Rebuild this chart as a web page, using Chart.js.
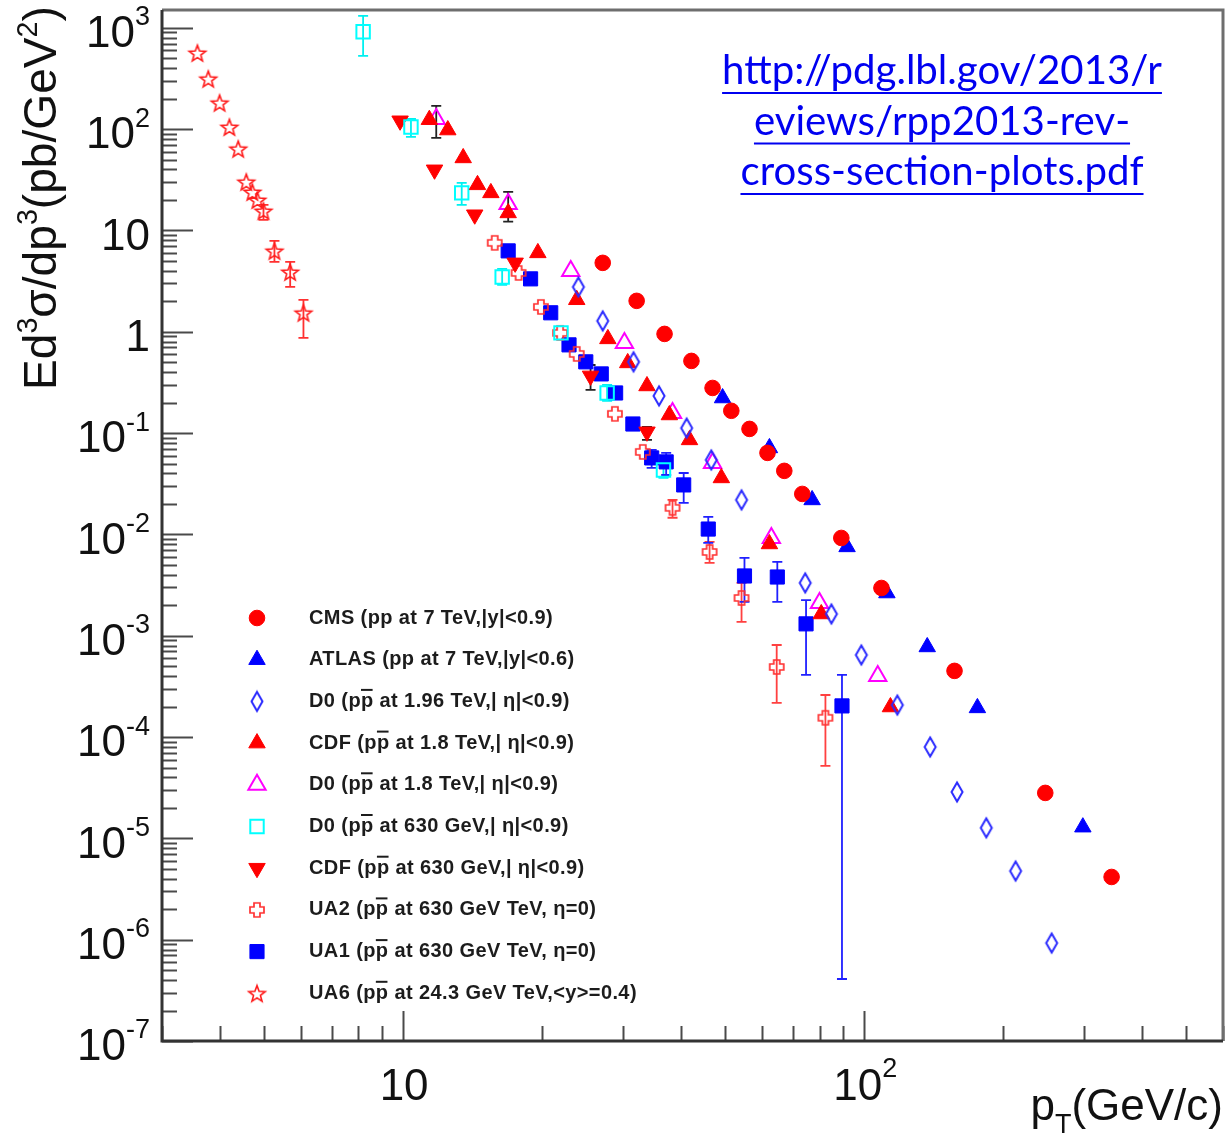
<!DOCTYPE html>
<html>
<head>
<meta charset="utf-8">
<title>Inclusive jet cross sections</title>
<script src="https://cdn.jsdelivr.net/npm/chart.js@4.4.0/dist/chart.umd.min.js"></script>
<style>
  html, body { margin: 0; padding: 0; background: #ffffff; }
  canvas { display: block; }
</style>
</head>
<body>
<canvas id="xsec" width="1229" height="1139"></canvas>
<script>
// ==================================================
// DATA (pT in GeV/c, E d3sigma/dp3 in pb/GeV^2)
// ==================================================
const cmsPt = [27.1, 32.1, 36.9, 42.2, 46.9, 51.5, 56.4, 61.7, 67.1, 73.4, 89.2, 109, 157, 247, 344];
const cmsXs = [4.79, 2.02, 0.953, 0.516, 0.279, 0.166, 0.110, 0.0638, 0.0424, 0.0251, 0.00923, 0.00296, 4.5e-4, 2.81e-5, 4.16e-6];

const atlasPt = [49.3, 62.3, 77.1, 91.8, 112, 137, 176, 298];
const atlasXs = [0.222, 0.0714, 0.0219, 0.00753, 0.00264, 7.75e-4, 1.94e-4, 1.29e-5];

const d0196Pt = [24.0, 27.1, 31.6, 35.9, 41.2, 46.6, 54.2, 74.5, 84.9, 98.6, 118, 139, 159, 184, 213, 255];
const d0196Xs = [2.77, 1.28, 0.505, 0.233, 0.112, 0.0543, 0.0219, 0.00332, 0.00164, 6.46e-4, 2.07e-4, 7.98e-5, 2.87e-5, 1.27e-5, 4.76e-6, 9.27e-7];

const cdf18Pt = [11.4, 12.5, 13.5, 14.5, 15.5, 16.9, 19.6, 23.8, 27.8, 30.7, 33.8, 37.8, 41.8, 49.0, 62.3, 80.7, 114];
const cdf18Xs = [124, 98, 52, 28.2, 23.5, 14.9, 6.01, 2.07, 0.851, 0.493, 0.292, 0.151, 0.0857, 0.0361, 0.00805, 0.00164, 1.98e-4];

const d018Pt = [11.8, 16.9, 23.1, 30.2, 38.4, 46.9, 62.9, 80.0, 107];
const d018Xs = [126, 18.3, 3.99, 0.776, 0.158, 0.0508, 0.00923, 0.00211, 4.01e-4];
const d018Err = [[82, 170], [12.2, 24], null, null, null, null, null, null, null];

const d0630Pt = [8.19, 10.4, 13.4, 16.4, 22.0, 27.7, 36.7];
const d0630Xs = [914, 105, 23.5, 3.48, 0.975, 0.249, 0.0433];
const d0630Err = [[530, 1313], [84, 126], [17.9, 29.5], [2.9, 4.18], null, [0.208, 0.299], [0.0361, 0.052]];

const cdf630Pt = [9.85, 11.7, 14.3, 17.5, 25.5, 33.8];
const cdf630Xs = [121, 39.7, 14.3, 4.79, 0.367, 0.103];
const cdf630Err = [null, null, null, null, [0.267, 0.47], [0.0857, 0.115]];

const ua2Pt = [15.8, 17.8, 19.9, 21.9, 23.8, 28.8, 33.1, 38.4, 46.2, 54.2, 64.6, 82.4];
const ua2Xs = [7.55, 3.81, 1.76, 0.975, 0.605, 0.155, 0.0652, 0.0183, 0.00671, 0.00236, 4.92e-4, 1.55e-4];
const ua2Err = [null, null, null, null, null, null, null, [0.0146, 0.0219], [0.00524, 0.00843],
  [0.00137, 0.00332], [2.17e-4, 8.1e-4], [5.19e-5, 2.6e-4]];

const ua1Pt = [16.9, 18.9, 20.9, 22.9, 24.9, 26.9, 28.9, 31.5, 34.6, 37.2, 40.6, 45.9, 55.0, 64.8, 74.8, 89.5];
const ua1Xs = [6.29, 3.33, 1.54, 0.743, 0.505, 0.384, 0.249, 0.123, 0.0569, 0.052, 0.0308, 0.0113, 0.00389, 0.0038, 0.00131, 2.03e-4];
const ua1Err = [null, null, null, null, null, null, null, null, [0.0453, 0.0682], [0.0386, 0.0638],
  [0.0205, 0.0404], [0.00824, 0.0149], [0.00216, 0.00586], [0.00216, 0.00536], [4.1e-4, 0.00225], [4.09e-7, 4.1e-4]];

const ua6Pt = [3.58, 3.78, 4.00, 4.20, 4.39, 4.57, 4.71, 4.83, 4.98, 5.26, 5.69, 6.08];
const ua6Xs = [566, 314, 182, 105, 64, 30.2, 24.0, 20.0, 15.6, 6.29, 3.90, 1.54];
const ua6Err = [null, null, null, null, null, null, null, null, [12.7, 17.9], [4.9, 7.89], [2.77, 4.9], [0.871, 2.07]];

const legendLabels = [
  "CMS (pp at 7 TeV,|y|<0.9)",
  "ATLAS (pp at 7 TeV,|y|<0.6)",
  "D0 (pp\u0304 at 1.96 TeV,| \u03b7|<0.9)",
  "CDF (pp\u0304 at 1.8 TeV,| \u03b7|<0.9)",
  "D0 (pp\u0304 at 1.8 TeV,| \u03b7|<0.9)",
  "D0 (pp\u0304 at 630 GeV,| \u03b7|<0.9)",
  "CDF (pp\u0304 at 630 GeV,| \u03b7|<0.9)",
  "UA2 (pp\u0304 at 630 GeV TeV, \u03b7=0)",
  "UA1 (pp\u0304 at 630 GeV TeV, \u03b7=0)",
  "UA6 (pp\u0304 at 24.3 GeV TeV,<y>=0.4)"
];

const yDecades = [3, 2, 1, 0, -1, -2, -3, -4, -5, -6, -7];
const xLabelDecades = [1, 2];
const linkLines = ["http://pdg.lbl.gov/2013/r", "eviews/rpp2013-rev-", "cross-section-plots.pdf"];

// ==================================================
// HELPERS
// ==================================================
const FONT = '"Liberation Sans", Arial, Helvetica, sans-serif';

function pairs(xs, ys) {
  return xs.map((x, i) => ({ x: x, y: ys[i] }));
}

function markerCanvas(w, h, draw) {
  const c = document.createElement("canvas");
  c.width = w;
  c.height = h;
  draw(c.getContext("2d"), w / 2, h / 2);
  return c;
}

function outline(g, pts, cx, cy) {
  g.beginPath();
  pts.forEach((p, i) => (i ? g.lineTo(cx + p[0], cy + p[1]) : g.moveTo(cx + p[0], cy + p[1])));
  g.closePath();
  g.stroke();
}

// open star (UA6)
const starMarker = markerCanvas(22, 22, (g, cx, cy) => {
  g.strokeStyle = "#ff1a1a";
  g.lineWidth = 1.6;
  const pts = [];
  for (let i = 0; i < 10; i++) {
    const r = i % 2 ? 3.6 : 8.6;
    const a = -Math.PI / 2 + (i * Math.PI) / 5;
    pts.push([r * Math.cos(a), r * Math.sin(a)]);
  }
  outline(g, pts, cx, cy + 1);
});

// open cross (UA2)
const crossMarker = markerCanvas(20, 20, (g, cx, cy) => {
  g.strokeStyle = "#ff3030";
  g.lineWidth = 1.7;
  outline(g, [[-3, -7], [3, -7], [3, -3], [7, -3], [7, 3], [3, 3], [3, 7], [-3, 7], [-3, 3], [-7, 3], [-7, -3], [-3, -3]], cx, cy);
});

// narrow open diamond (D0 1.96 TeV)
const diamondMarker = markerCanvas(16, 24, (g, cx, cy) => {
  g.strokeStyle = "#2a2aff";
  g.lineWidth = 2;
  outline(g, [[0, -9.5], [5.5, 0], [0, 9.5], [-5.5, 0]], cx, cy);
});

// ==================================================
// CHART DATASETS
// ==================================================
const datasets = [
  { label: legendLabels[0], data: pairs(cmsPt, cmsXs), pointStyle: "circle", pointRadius: 7.8,
    pointBackgroundColor: "#ff0000", pointBorderColor: "#ff0000", pointBorderWidth: 1 },
  { label: legendLabels[1], data: pairs(atlasPt, atlasXs), pointStyle: "triangle", pointRadius: 9.5,
    pointBackgroundColor: "#0000ff", pointBorderColor: "#0000ff", pointBorderWidth: 1 },
  { label: legendLabels[2], data: pairs(d0196Pt, d0196Xs), pointStyle: diamondMarker, pointRadius: 8 },
  { label: legendLabels[3], data: pairs(cdf18Pt, cdf18Xs), pointStyle: "triangle", pointRadius: 9.5,
    pointBackgroundColor: "#ff0000", pointBorderColor: "#ff0000", pointBorderWidth: 1 },
  { label: legendLabels[4], data: pairs(d018Pt, d018Xs), pointStyle: "triangle", pointRadius: 10,
    pointBackgroundColor: "rgba(0,0,0,0)", pointBorderColor: "#ff00ff", pointBorderWidth: 2,
    errors: d018Err, errorColor: "#222222" },
  { label: legendLabels[5], data: pairs(d0630Pt, d0630Xs), pointStyle: "rect", pointRadius: 9.5,
    pointBackgroundColor: "rgba(0,0,0,0)", pointBorderColor: "#00ffff", pointBorderWidth: 2,
    errors: d0630Err, errorColor: "#00f0f0" },
  { label: legendLabels[6], data: pairs(cdf630Pt, cdf630Xs), pointStyle: "triangle", pointRotation: 180, pointRadius: 9.5,
    pointBackgroundColor: "#ff0000", pointBorderColor: "#ff0000", pointBorderWidth: 1,
    errors: cdf630Err, errorColor: "#222222" },
  { label: legendLabels[7], data: pairs(ua2Pt, ua2Xs), pointStyle: crossMarker, pointRadius: 8,
    errors: ua2Err, errorColor: "#ff4040" },
  { label: legendLabels[8], data: pairs(ua1Pt, ua1Xs), pointStyle: "rect", pointRadius: 10,
    pointBackgroundColor: "#0000ff", pointBorderColor: "#0000ff", pointBorderWidth: 1,
    errors: ua1Err, errorColor: "#2020ff" },
  { label: legendLabels[9], data: pairs(ua6Pt, ua6Xs), pointStyle: starMarker, pointRadius: 8,
    errors: ua6Err, errorColor: "#ff3030" }
];

// ==================================================
// DRAWING (ROOT like frame, ticks, labels, legend)
// ==================================================
function drawErrors(chart) {
  const ctx = chart.ctx;
  const xs = chart.scales.x;
  const ys = chart.scales.y;
  const a = chart.chartArea;
  ctx.save();
  ctx.beginPath();
  ctx.rect(a.left, a.top, a.right - a.left, a.bottom - a.top);
  ctx.clip();
  chart.data.datasets.forEach((ds) => {
    if (!ds.errors) return;
    ctx.strokeStyle = ds.errorColor;
    ctx.lineWidth = 1.8;
    ds.errors.forEach((e, i) => {
      if (!e) return;
      const px = xs.getPixelForValue(ds.data[i].x);
      const lo = ys.getPixelForValue(e[0]);
      const hi = ys.getPixelForValue(e[1]);
      ctx.beginPath();
      ctx.moveTo(px, lo);
      ctx.lineTo(px, hi);
      ctx.moveTo(px - 5, lo);
      ctx.lineTo(px + 5, lo);
      ctx.moveTo(px - 5, hi);
      ctx.lineTo(px + 5, hi);
      ctx.stroke();
    });
  });
  ctx.restore();
}

function powerParts(exp) {
  if (exp === 0) return ["1", ""];
  if (exp === 1) return ["10", ""];
  return ["10", String(exp)];
}

function drawFrame(chart) {
  const ctx = chart.ctx;
  const xs = chart.scales.x;
  const ys = chart.scales.y;
  const a = chart.chartArea;
  ctx.save();

  // ticks
  ctx.strokeStyle = "#4a4a4a";
  ctx.lineWidth = 2;
  ctx.beginPath();
  for (let e = -7; e <= 3; e++) {
    for (let k = 1; k <= 9; k++) {
      const v = k * Math.pow(10, e);
      if (v < ys.min * 0.999 || v > ys.max) continue;
      const py = Math.round(ys.getPixelForValue(v)) + 0.5;
      ctx.moveTo(a.left, py);
      ctx.lineTo(a.left + (k === 1 ? 31 : 15), py);
    }
  }
  for (let e = 0; e <= 2; e++) {
    for (let k = 1; k <= 9; k++) {
      const v = k * Math.pow(10, e);
      if (v < xs.min || v > xs.max) continue;
      const px = Math.round(xs.getPixelForValue(v)) + 0.5;
      ctx.moveTo(px, a.bottom);
      ctx.lineTo(px, a.bottom - (k === 1 ? 30 : 15));
    }
  }
  ctx.stroke();

  // frame
  ctx.lineWidth = 3;
  ctx.strokeStyle = "#6e6e6e";
  ctx.beginPath();
  ctx.moveTo(a.left, a.top);
  ctx.lineTo(a.right, a.top);
  ctx.lineTo(a.right, a.bottom);
  ctx.stroke();
  ctx.strokeStyle = "#333333";
  ctx.beginPath();
  ctx.moveTo(a.left, a.top);
  ctx.lineTo(a.left, a.bottom);
  ctx.lineTo(a.right, a.bottom);
  ctx.stroke();

  // y tick labels
  ctx.fillStyle = "#111111";
  ctx.textBaseline = "middle";
  ctx.textAlign = "left";
  yDecades.forEach((e) => {
    const py = ys.getPixelForValue(Math.pow(10, e));
    const [base, sup] = powerParts(e);
    ctx.font = "44px " + FONT;
    const wb = ctx.measureText(base).width;
    ctx.font = "27px " + FONT;
    const ws = sup ? ctx.measureText(sup).width : 0;
    const right = 150;
    ctx.font = "44px " + FONT;
    ctx.fillText(base, right - ws - wb, py + 7);
    if (sup) {
      ctx.font = "27px " + FONT;
      ctx.fillText(sup, right - ws, py - 10);
    }
  });

  // x tick labels
  xLabelDecades.forEach((e) => {
    const px = xs.getPixelForValue(Math.pow(10, e));
    const [base, sup] = powerParts(e);
    ctx.font = "44px " + FONT;
    const wb = ctx.measureText(base).width;
    ctx.font = "27px " + FONT;
    const ws = sup ? ctx.measureText(sup).width : 0;
    const left = px - (wb + ws) / 2 + 1;
    ctx.font = "44px " + FONT;
    ctx.fillText(base, left, 1088);
    if (sup) {
      ctx.font = "27px " + FONT;
      ctx.fillText(sup, left + wb, 1070);
    }
  });
  ctx.restore();
}

function drawTitles(chart) {
  const ctx = chart.ctx;
  ctx.save();
  ctx.fillStyle = "#111111";
  ctx.textBaseline = "alphabetic";
  ctx.textAlign = "left";

  // x title: p_T(GeV/c), right aligned to the frame
  const big = "44px " + FONT;
  const small = "27px " + FONT;
  ctx.font = big;
  const wp = ctx.measureText("p").width;
  const wr = ctx.measureText("(GeV/c)").width;
  ctx.font = small;
  const wt = ctx.measureText("T").width;
  let x0 = 1223 - (wp + wt + wr);
  ctx.font = big;
  ctx.fillText("p", x0, 1120);
  ctx.font = small;
  ctx.fillText("T", x0 + wp, 1133);
  ctx.font = big;
  ctx.fillText("(GeV/c)", x0 + wp + wt, 1120);

  // y title: E d3sigma/dp3 (pb/GeV2), rotated, ending at the top of the frame
  const segs = [["Ed", 0], ["3", 1], ["\u03c3/dp", 0], ["3", 1], ["(pb/GeV", 0], ["2", 1], [")", 0]];
  const size = 45;
  let total = 0;
  segs.forEach((s) => {
    ctx.font = (s[1] ? size * 0.62 : size) + "px " + FONT;
    total += ctx.measureText(s[0]).width;
  });
  const scale = 384 / total;
  ctx.translate(56, 390);
  ctx.rotate(-Math.PI / 2);
  let cx = 0;
  segs.forEach((s) => {
    ctx.font = (s[1] ? size * 0.62 * scale : size * scale) + "px " + FONT;
    ctx.fillText(s[0], cx, s[1] ? -19 : 0);
    cx += ctx.measureText(s[0]).width;
  });
  ctx.restore();
}

function drawMarker(ctx, ds, x, y) {
  const style = ds.pointStyle;
  if (style instanceof HTMLCanvasElement) {
    ctx.drawImage(style, x - style.width / 2, y - style.height / 2);
    return;
  }
  ctx.fillStyle = ds.pointBackgroundColor;
  ctx.strokeStyle = ds.pointBorderColor;
  ctx.lineWidth = ds.pointBorderWidth;
  const opts = { pointStyle: style, radius: ds.pointRadius, rotation: ds.pointRotation || 0, borderWidth: ds.pointBorderWidth };
  Chart.helpers.drawPoint(ctx, opts, x, y);
}

function drawLegend(chart) {
  const ctx = chart.ctx;
  ctx.save();
  ctx.textBaseline = "middle";
  ctx.textAlign = "left";
  chart.data.datasets.forEach((ds, i) => {
    const y = 618 + i * 41.7;
    drawMarker(ctx, ds, 257, y);
    ctx.font = "bold 20px " + FONT;
    ctx.letterSpacing = "0.4px";
    ctx.fillStyle = "#1c1c1c";
    ctx.strokeStyle = "#1c1c1c";
    const parts = ds.label.split("\u0304");
    let x = 309;
    parts.forEach((p, j) => {
      ctx.fillText(p, x, y);
      const w = ctx.measureText(p).width;
      if (j < parts.length - 1) {
        // overline on the last "p" of this chunk (antiproton)
        const wl = ctx.measureText("p").width;
        ctx.lineWidth = 2;
        ctx.beginPath();
        ctx.moveTo(x + w - wl, y - 11.5);
        ctx.lineTo(x + w - 1, y - 11.5);
        ctx.stroke();
      }
      x += w;
    });
    ctx.letterSpacing = "0px";
  });
  ctx.restore();
}

function drawLink(chart) {
  const ctx = chart.ctx;
  ctx.save();
  ctx.fillStyle = "#0000f0";
  ctx.strokeStyle = "#0000f0";
  ctx.textAlign = "left";
  ctx.textBaseline = "alphabetic";
  ctx.font = '32px Lato, "Open Sans", sans-serif';
  const w0 = ctx.measureText(linkLines[0]).width;
  const fs = 32 * 440 / w0;
  ctx.font = fs.toFixed(2) + 'px Lato, "Open Sans", sans-serif';
  linkLines.forEach((t, i) => {
    const w = ctx.measureText(t).width;
    const base = 84 + i * 50.5;
    const x = 942 - w / 2;
    ctx.fillText(t, x, base);
    ctx.lineWidth = 2;
    ctx.beginPath();
    ctx.moveTo(x, base + 9);
    ctx.lineTo(x + w, base + 9);
    ctx.stroke();
  });
  ctx.restore();
}

const rootStyle = {
  id: "rootStyle",
  beforeDatasetsDraw(chart) {
    drawErrors(chart);
  },
  afterDatasetsDraw(chart) {
    drawFrame(chart);
    drawTitles(chart);
    drawLegend(chart);
    drawLink(chart);
  }
};

// ==================================================
// CHART
// ==================================================
const ctx = document.getElementById("xsec").getContext("2d");
const chart = new Chart(ctx, {
  type: "scatter",
  data: { datasets: datasets },
  options: {
    responsive: false,
    animation: false,
    devicePixelRatio: 1,
    events: [],
    layout: { autoPadding: false, padding: { left: 162, right: 6, top: 10, bottom: 98 } },
    scales: {
      x: { type: "logarithmic", min: 3, max: 600, display: false },
      y: { type: "logarithmic", min: 1e-7, max: 1500, display: false }
    },
    plugins: {
      legend: { display: false },
      tooltip: { enabled: false }
    }
  },
  plugins: [rootStyle]
});
</script>
</body>
</html>
